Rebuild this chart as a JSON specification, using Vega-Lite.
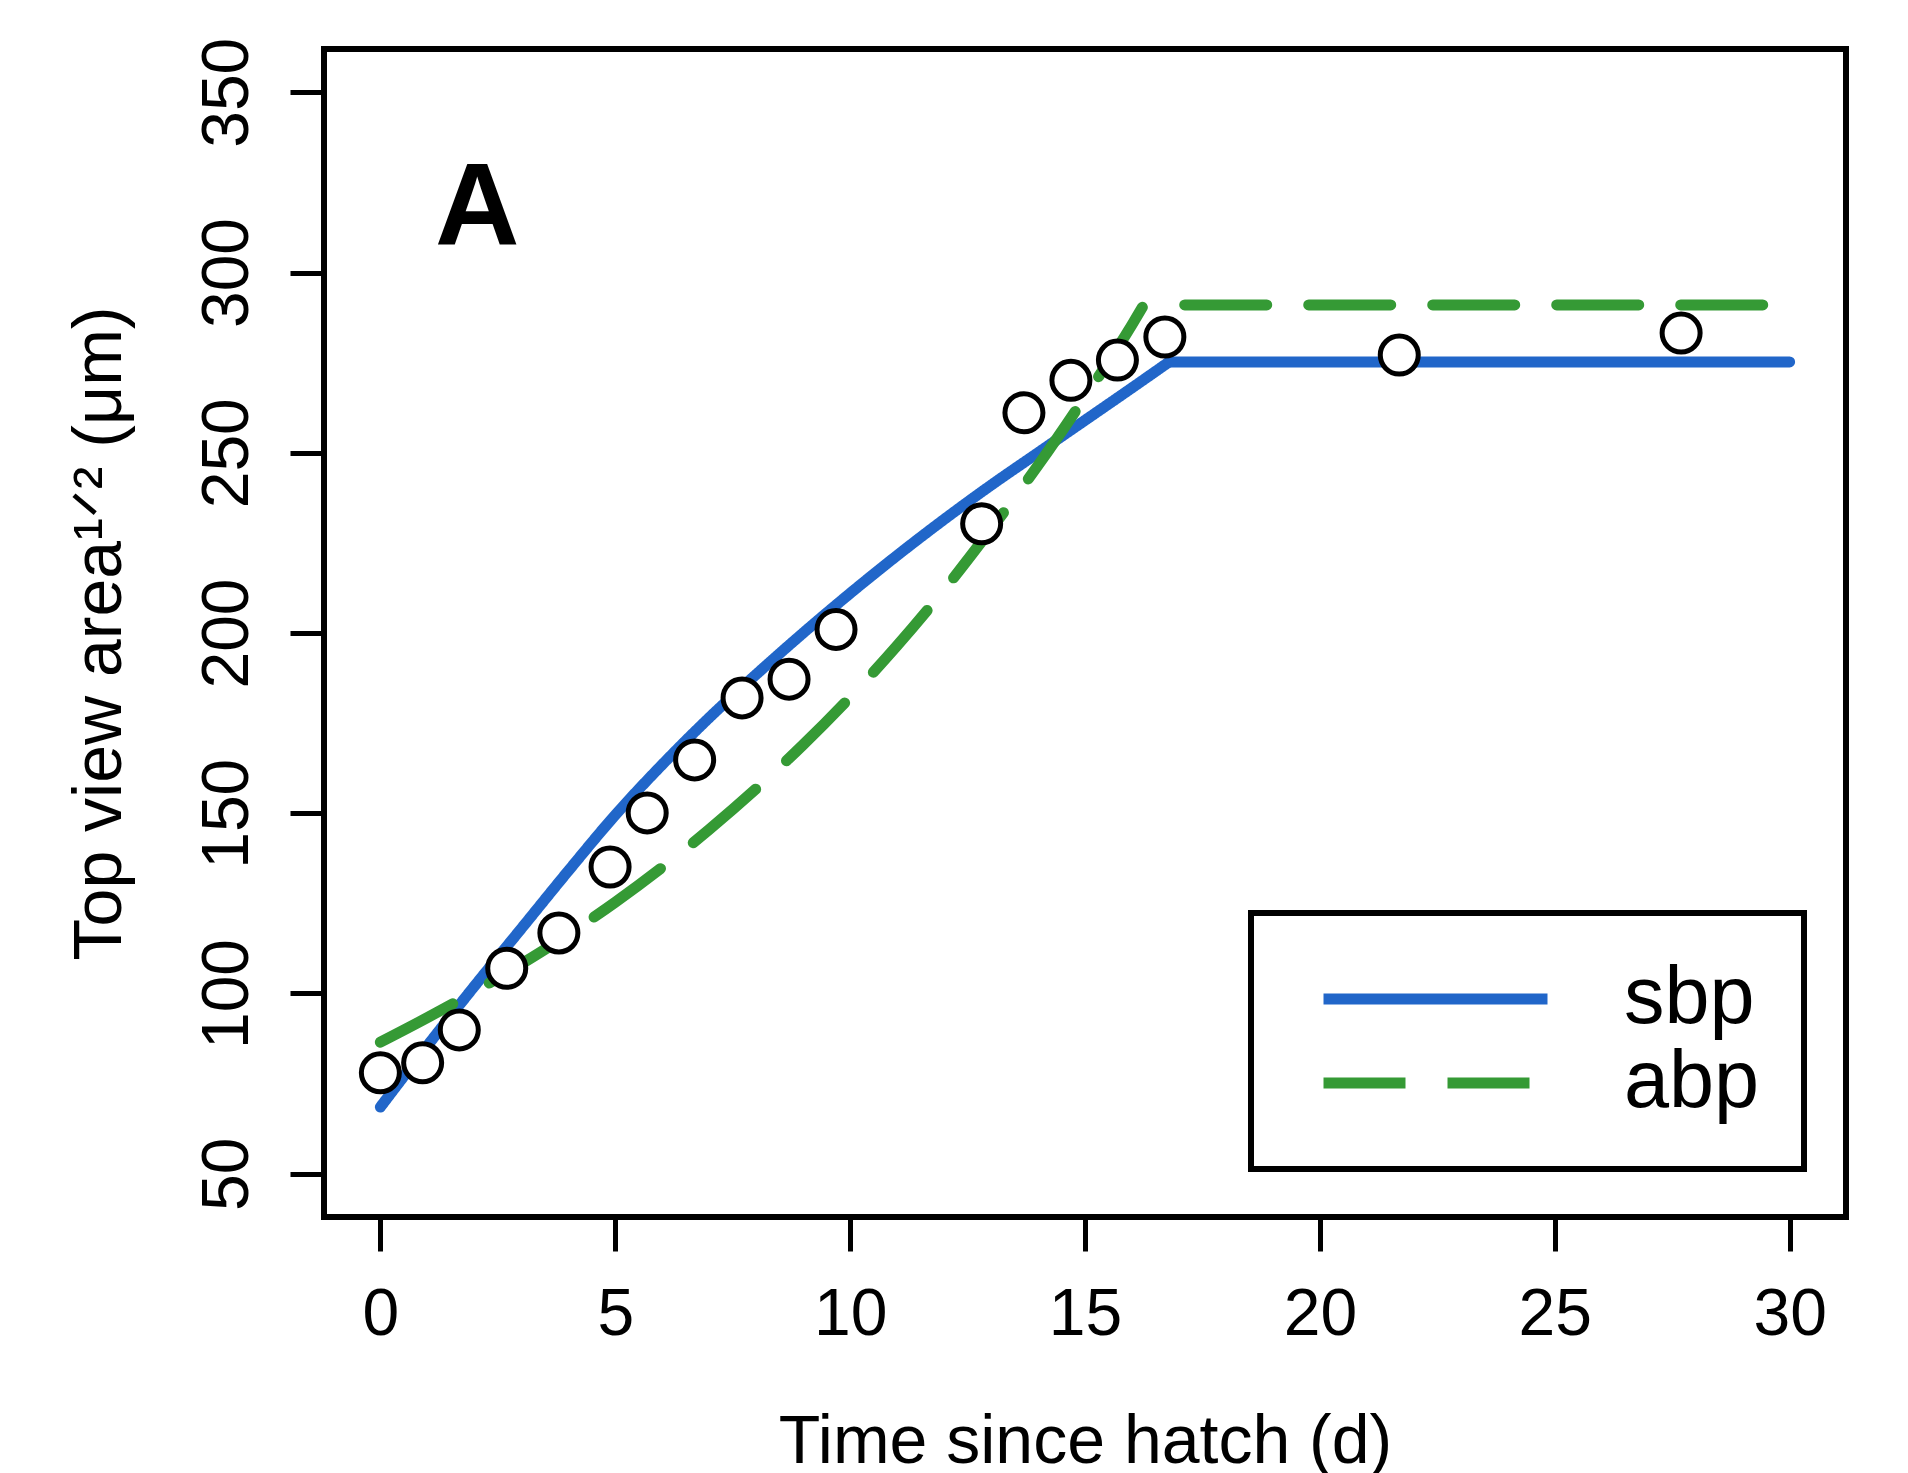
{
  "$schema": "https://vega.github.io/schema/vega-lite/v6.json",
  "width": 1522,
  "height": 1168,
  "autosize": {"type": "none"},
  "padding": {"left": 324, "top": 49, "right": 62, "bottom": 256},
  "background": "white",
  "config": {
    "font": "Liberation Sans",
    "view": {"stroke": "black", "strokeWidth": 6},
    "axis": {
      "grid": false, "domain": false, "tickColor": "black", "tickWidth": 5, "tickSize": 34,
      "labelColor": "black", "titleColor": "black", "labelFontSize": 66, "titleFontSize": 68,
      "labelFont": "Liberation Sans", "titleFont": "Liberation Sans", "titleFontWeight": "normal",
      "labelFlush": false, "labelOverlap": false
    },
    "legend": {"strokeWidth": 6}
  },
  "datasets": {
    "curves": [
      {"series": "sbp", "part": "rise", "t": 0, "y": 68.5},
      {"series": "sbp", "part": "rise", "t": 1, "y": 85.5},
      {"series": "sbp", "part": "rise", "t": 2, "y": 102},
      {"series": "sbp", "part": "rise", "t": 3, "y": 118},
      {"series": "sbp", "part": "rise", "t": 4, "y": 134},
      {"series": "sbp", "part": "rise", "t": 5, "y": 149.5},
      {"series": "sbp", "part": "rise", "t": 6, "y": 163.5},
      {"series": "sbp", "part": "rise", "t": 7, "y": 176.5},
      {"series": "sbp", "part": "rise", "t": 8, "y": 188.5},
      {"series": "sbp", "part": "rise", "t": 9, "y": 200},
      {"series": "sbp", "part": "rise", "t": 10, "y": 211},
      {"series": "sbp", "part": "rise", "t": 11, "y": 221.5},
      {"series": "sbp", "part": "rise", "t": 12, "y": 231.5},
      {"series": "sbp", "part": "rise", "t": 13, "y": 241},
      {"series": "sbp", "part": "rise", "t": 14, "y": 250},
      {"series": "sbp", "part": "rise", "t": 15, "y": 259},
      {"series": "sbp", "part": "rise", "t": 16, "y": 268},
      {"series": "sbp", "part": "rise", "t": 16.79, "y": 275.2},
      {"series": "sbp", "part": "flat", "t": 16.79, "y": 275.2},
      {"series": "sbp", "part": "flat", "t": 30, "y": 275.2},
      {"series": "abp", "part": "rise", "t": 0, "y": 86.5},
      {"series": "abp", "part": "rise", "t": 1, "y": 93.3},
      {"series": "abp", "part": "rise", "t": 2, "y": 100.5},
      {"series": "abp", "part": "rise", "t": 3, "y": 108.2},
      {"series": "abp", "part": "rise", "t": 4, "y": 116.4},
      {"series": "abp", "part": "rise", "t": 5, "y": 125.3},
      {"series": "abp", "part": "rise", "t": 6, "y": 135},
      {"series": "abp", "part": "rise", "t": 7, "y": 145.5},
      {"series": "abp", "part": "rise", "t": 8, "y": 156.8},
      {"series": "abp", "part": "rise", "t": 9, "y": 169},
      {"series": "abp", "part": "rise", "t": 10, "y": 182.2},
      {"series": "abp", "part": "rise", "t": 11, "y": 196.5},
      {"series": "abp", "part": "rise", "t": 12, "y": 212},
      {"series": "abp", "part": "rise", "t": 13, "y": 228.8},
      {"series": "abp", "part": "rise", "t": 14, "y": 246.5},
      {"series": "abp", "part": "rise", "t": 15, "y": 265.5},
      {"series": "abp", "part": "rise", "t": 16, "y": 285.5},
      {"series": "abp", "part": "rise", "t": 16.25, "y": 291},
      {"series": "abp", "part": "flat", "t": 16.25, "y": 291},
      {"series": "abp", "part": "flat", "t": 30, "y": 291}
    ],
    "obs": [
      {"t": 0, "y": 78.0},
      {"t": 0.9, "y": 80.8},
      {"t": 1.68, "y": 89.9},
      {"t": 2.69, "y": 107},
      {"t": 3.8, "y": 116.8},
      {"t": 4.89, "y": 135.1},
      {"t": 5.68, "y": 150.1},
      {"t": 6.69, "y": 164.8},
      {"t": 7.7, "y": 182},
      {"t": 8.7, "y": 187.2},
      {"t": 9.7, "y": 201},
      {"t": 12.8, "y": 230.3},
      {"t": 13.7, "y": 261.1},
      {"t": 14.7, "y": 270.1},
      {"t": 15.69, "y": 275.7},
      {"t": 16.7, "y": 282.1},
      {"t": 21.69, "y": 277.1},
      {"t": 27.69, "y": 283.2}
    ],
    "panel": [
      {"label": "A"}
    ]
  },
  "layer": [
    {
      "data": {"name": "curves"},
      "transform": [{"filter": "datum.part === 'rise'"}],
      "mark": {"type": "line", "strokeWidth": 11, "strokeCap": "round", "strokeJoin": "round", "interpolate": "monotone"},
      "encoding": {
        "x": {
          "field": "t", "type": "quantitative",
          "scale": {"domain": [-1.2, 31.2], "nice": false, "zero": false},
          "axis": {
            "values": [0, 5, 10, 15, 20, 25, 30], "labelPadding": 31,
            "title": "Time since hatch (d)", "titleX": 761, "titleY": 245,
            "titleBaseline": "alphabetic", "titleAlign": "center"
          }
        },
        "y": {
          "field": "y", "type": "quantitative",
          "scale": {"domain": [38, 362], "nice": false, "zero": false},
          "axis": {
            "values": [50, 100, 150, 200, 250, 300, 350],
            "labelAngle": 270, "labelAlign": "center", "labelBaseline": "alphabetic", "labelPadding": 43,
            "title": "Top view area¹ᐟ² (μm)", "titleAngle": 270, "titleX": -204, "titleY": 584,
            "titleAlign": "center", "titleBaseline": "alphabetic"
          }
        },
        "color": {
          "field": "series", "type": "nominal",
          "scale": {"domain": ["sbp", "abp"], "range": ["#2166C9", "#359A35"]},
          "legend": {
            "orient": "none", "legendX": 927, "legendY": 864, "title": null, "direction": "vertical",
            "labelFontSize": 81, "labelColor": "black", "labelFont": "Liberation Sans",
            "symbolType": "stroke", "symbolSize": 50176, "symbolStrokeWidth": 11,
            "clipHeight": 84, "padding": 44, "symbolOffset": 23, "labelOffset": 71,
            "strokeColor": "black", "fillColor": "white", "rowPadding": 0
          }
        },
        "strokeDash": {
          "field": "series", "type": "nominal",
          "scale": {"domain": ["sbp", "abp"], "range": [[1, 0], [82, 42]]},
          "legend": {
            "orient": "none", "legendX": 927, "legendY": 864, "title": null, "direction": "vertical",
            "labelFontSize": 81, "labelColor": "black", "labelFont": "Liberation Sans",
            "symbolType": "stroke", "symbolSize": 50176, "symbolStrokeWidth": 11,
            "clipHeight": 84, "padding": 44, "symbolOffset": 23, "labelOffset": 71,
            "strokeColor": "black", "fillColor": "white", "rowPadding": 0
          }
        }
      }
    },
    {
      "data": {"name": "curves"},
      "transform": [{"filter": "datum.part === 'flat'"}],
      "mark": {"type": "line", "strokeWidth": 11, "strokeCap": "round", "strokeJoin": "round", "strokeDashOffset": 83},
      "encoding": {
        "x": {"field": "t", "type": "quantitative"},
        "y": {"field": "y", "type": "quantitative"},
        "color": {"field": "series", "type": "nominal"},
        "strokeDash": {"field": "series", "type": "nominal"}
      }
    },
    {
      "data": {"name": "obs"},
      "mark": {"type": "circle", "fill": "white", "stroke": "black", "strokeWidth": 5, "size": 1444, "opacity": 1, "fillOpacity": 1},
      "encoding": {
        "x": {"field": "t", "type": "quantitative"},
        "y": {"field": "y", "type": "quantitative"}
      }
    },
    {
      "data": {"name": "panel"},
      "mark": {"type": "text", "fontSize": 117, "fontWeight": "bold", "align": "center", "baseline": "alphabetic", "fill": "black", "font": "Liberation Sans"},
      "encoding": {
        "text": {"field": "label", "type": "nominal"},
        "x": {"datum": 2.06, "type": "quantitative"},
        "y": {"datum": 307.6, "type": "quantitative"}
      }
    }
  ]
}
